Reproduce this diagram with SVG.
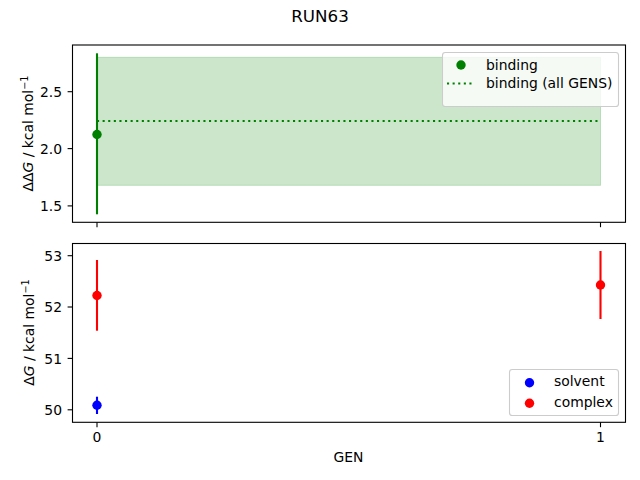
<svg xmlns="http://www.w3.org/2000/svg" width="640" height="480" viewBox="0 0 640 480">
<style>
text{font-family:"DejaVu Sans","Liberation Sans",sans-serif;fill:#000}
.t{font-size:13.9px}
.tl{font-size:13.9px;text-anchor:end}
.tc{font-size:13.9px;text-anchor:middle}
.spine{fill:none;stroke:#000;stroke-width:1.1}
.tick{stroke:#000;stroke-width:1.1}
.leg{fill:#fff;fill-opacity:0.8;stroke:#cccccc;stroke-width:1.1}
.g{stroke:#008000;stroke-width:2.1}
.r{stroke:#ff0000;stroke-width:2.1}
.b{stroke:#0000ff;stroke-width:2.1}
</style>
<rect width="640" height="480" fill="#fff"/>
<text x="320" y="22" font-size="16.7" text-anchor="middle">RUN63</text>

<g id="top-axes">
<rect x="97" y="57.3" width="503.5" height="128" fill="#008000" fill-opacity="0.2" stroke="#008000" stroke-opacity="0.2" stroke-width="1"/>
<line x1="97" y1="121" x2="600.5" y2="121" stroke="#008000" stroke-width="2.1" stroke-dasharray="2.1,3.5"/>
<line class="g" x1="97" y1="53.3" x2="97" y2="214.3"/>
<circle cx="97" cy="134.5" r="4.7" fill="#008000"/>
<rect class="spine" x="72.5" y="45" width="553" height="177.3"/>
<g class="tick">
<line x1="67.6" y1="91.7" x2="72.5" y2="91.7"/>
<line x1="67.6" y1="148.6" x2="72.5" y2="148.6"/>
<line x1="67.6" y1="205.9" x2="72.5" y2="205.9"/>
<line x1="97" y1="222.3" x2="97" y2="227.2"/>
<line x1="600.5" y1="222.3" x2="600.5" y2="227.2"/>
</g>
<text class="tl" x="62" y="96.9">2.5</text>
<text class="tl" x="62" y="153.8">2.0</text>
<text class="tl" x="62" y="211.1">1.5</text>
<text class="tc" transform="translate(33,133.5) rotate(-90)">ΔΔ<tspan font-style="italic">G</tspan> / kcal mol<tspan dy="-5.5" font-size="9.7">−1</tspan></text>
<g id="legend-top">
<rect class="leg" x="442.5" y="52.5" width="176" height="54" rx="2.8"/>
<circle cx="461" cy="65" r="4.7" fill="#008000"/>
<text class="t" x="486" y="69.8">binding</text>
<line x1="447" y1="83.5" x2="475" y2="83.5" stroke="#008000" stroke-width="2.1" stroke-dasharray="2.1,3.5"/>
<text class="t" x="486" y="88.3">binding (all GENS)</text>
</g>
</g>

<g id="bottom-axes">
<line class="r" x1="97" y1="260" x2="97" y2="330.7"/>
<circle cx="97" cy="295.5" r="4.7" fill="#ff0000"/>
<line class="b" x1="97" y1="396.7" x2="97" y2="414"/>
<circle cx="97" cy="405.2" r="4.7" fill="#0000ff"/>
<line class="r" x1="600.5" y1="251" x2="600.5" y2="319"/>
<circle cx="600.5" cy="285" r="4.7" fill="#ff0000"/>
<rect class="spine" x="72.5" y="243.5" width="553" height="178.8"/>
<g class="tick">
<line x1="67.6" y1="255.7" x2="72.5" y2="255.7"/>
<line x1="67.6" y1="307" x2="72.5" y2="307"/>
<line x1="67.6" y1="358.4" x2="72.5" y2="358.4"/>
<line x1="67.6" y1="409.8" x2="72.5" y2="409.8"/>
<line x1="97" y1="422.3" x2="97" y2="427.2"/>
<line x1="600.5" y1="422.3" x2="600.5" y2="427.2"/>
</g>
<text class="tl" x="62" y="260.9">53</text>
<text class="tl" x="62" y="312.2">52</text>
<text class="tl" x="62" y="363.6">51</text>
<text class="tl" x="62" y="415">50</text>
<text class="tc" x="97" y="442">0</text>
<text class="tc" x="600.5" y="442">1</text>
<text class="tc" x="348.5" y="461.5">GEN</text>
<text class="tc" transform="translate(34,332.5) rotate(-90)">Δ<tspan font-style="italic">G</tspan> / kcal mol<tspan dy="-5.5" font-size="9.7">−1</tspan></text>
<g id="legend-bottom">
<rect class="leg" x="509.5" y="369.5" width="109" height="46" rx="2.8"/>
<circle cx="529.5" cy="382.7" r="4.7" fill="#0000ff"/>
<text class="t" x="554" y="386.3">solvent</text>
<circle cx="529.5" cy="403.3" r="4.7" fill="#ff0000"/>
<text class="t" x="554" y="406.6">complex</text>
</g>
</g>
</svg>
